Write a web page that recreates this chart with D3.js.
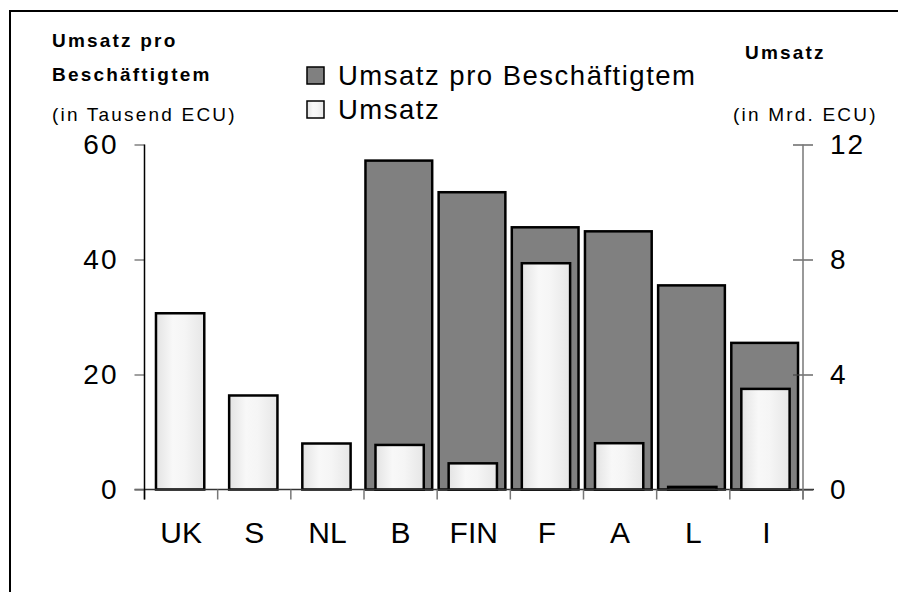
<!DOCTYPE html>
<html>
<head>
<meta charset="utf-8">
<script src="https://cdn.jsdelivr.net/npm/d3@7"></script>
<style>
  html, body { margin: 0; background: #fff; overflow: hidden; }
  svg { display: block; font-family: "Liberation Sans", Arial, sans-serif; }
  .tick text { fill: #000; }
</style>
</head>
<body>
<div id="chart"></div>
<script>
// Countries on the x axis
const countries = ['UK', 'S', 'NL', 'B', 'FIN', 'F', 'A', 'L', 'I'];
// Umsatz pro Beschäftigtem, in Tausend ECU (left axis) - null = no bar
const umsatzProBesch = [null, null, null, 57.2, 51.7, 45.6, 44.9, 35.5, 25.5];
// Umsatz, in Mrd. ECU (right axis)
const umsatz = [6.13, 3.27, 1.6, 1.55, 0.91, 7.87, 1.61, 0.09, 3.5];
// tick values
const leftTicks = [0, 20, 40, 60];
const rightTicks = [0, 4, 8, 12];

const width = 898;
const height = 592;
const margins = { top: 144.5, right: 95, left: 144.5, bottom: 102.5 };
const innerWidth = width - margins.left - margins.right;
const innerHeight = height - margins.top - margins.bottom;

const svg = d3.select('#chart')
  .append('svg')
  .attr('width', width)
  .attr('height', height);

// gradient used by the light bars
const grad = svg.append('defs').append('linearGradient')
  .attr('id', 'lightGrad')
  .attr('x1', '0%').attr('x2', '100%').attr('y1', '0%').attr('y2', '0%');
[[0, '#e3e3e3'], [0.35, '#f8f8f8'], [0.6, '#f5f5f5'], [1, '#e6e6e6']].forEach(s => {
  grad.append('stop').attr('offset', s[0]).attr('stop-color', s[1]);
});

// frame: only top and left edges are inside the picture
svg.append('line')
  .attr('x1', 10).attr('x2', 10)
  .attr('y1', 10).attr('y2', height)
  .attr('stroke', '#000').attr('stroke-width', 2);
svg.append('line')
  .attr('x1', 9).attr('x2', width)
  .attr('y1', 11).attr('y2', 11)
  .attr('stroke', '#000').attr('stroke-width', 2);

const g = svg.append('g')
  .attr('transform', `translate(${margins.left}, ${margins.top})`);

const xScale = d3.scaleBand()
  .domain(countries)
  .range([0, innerWidth]);

const yLeft = d3.scaleLinear()
  .domain([0, 60])
  .range([innerHeight, 0]);

const yRight = d3.scaleLinear()
  .domain([0, 12])
  .range([innerHeight, 0]);

const bw = xScale.bandwidth();

// dark bars (left axis)
const darkData = countries.map((c, i) => ({ c, v: umsatzProBesch[i] })).filter(d => d.v != null);
g.selectAll('rect.dark')
  .data(darkData)
  .enter()
  .append('rect')
  .attr('class', 'dark')
  .attr('x', d => xScale(d.c) + bw * 0.02)
  .attr('width', bw * 0.912)
  .attr('y', d => yLeft(d.v))
  .attr('height', d => innerHeight - yLeft(d.v))
  .attr('fill', '#808080')
  .attr('stroke', '#000')
  .attr('stroke-width', 2.5);

// light bars (right axis)
const lightData = countries.map((c, i) => ({ c, v: umsatz[i] }));
g.selectAll('rect.light')
  .data(lightData)
  .enter()
  .append('rect')
  .attr('class', 'light')
  .attr('x', d => xScale(d.c) + bw * 0.157)
  .attr('width', bw * 0.66)
  .attr('y', d => yRight(d.v))
  .attr('height', d => innerHeight - yRight(d.v))
  .attr('fill', 'url(#lightGrad)')
  .attr('stroke', '#000')
  .attr('stroke-width', 2.5);

// x axis line
g.append('line')
  .attr('x1', -10).attr('x2', innerWidth + 11)
  .attr('y1', innerHeight).attr('y2', innerHeight)
  .attr('stroke', '#333')
  .attr('stroke-width', 1.5);

// category divider ticks
const dividers = countries.map(c => xScale(c)).concat([innerWidth]);
g.selectAll('line.div')
  .data(dividers)
  .enter()
  .append('line')
  .attr('class', 'div')
  .attr('x1', d => d).attr('x2', d => d)
  .attr('y1', innerHeight).attr('y2', innerHeight + 10)
  .attr('stroke', '#777')
  .attr('stroke-width', 1.5);

// category labels
const xAxis = d3.axisBottom(xScale)
  .tickSize(0)
  .tickPadding(32);

g.append('g')
  .attr('class', 'x axis')
  .attr('transform', `translate(0, ${innerHeight})`)
  .call(xAxis)
  .call(a => a.select('.domain').remove())
  .selectAll('text')
  .attr('font-size', 30);

// left axis
const leftAxis = d3.axisLeft(yLeft)
  .tickValues(leftTicks)
  .tickSizeInner(10)
  .tickSizeOuter(0)
  .tickPadding(16);

const la = g.append('g')
  .attr('class', 'y axis left')
  .call(leftAxis);
la.select('.domain').remove();
la.selectAll('.tick line').attr('stroke', '#808080').attr('stroke-width', 1.5);
la.selectAll('.tick text').attr('font-size', 28).attr('letter-spacing', 2);
g.append('line')
  .attr('x1', 0).attr('x2', 0)
  .attr('y1', 0).attr('y2', innerHeight + 10)
  .attr('stroke', '#000').attr('stroke-width', 1.5);

// right axis (ticks cross the axis)
const rightAxis = d3.axisRight(yRight)
  .tickValues(rightTicks)
  .tickSizeInner(10)
  .tickSizeOuter(0)
  .tickPadding(17);

const ra = g.append('g')
  .attr('class', 'y axis right')
  .attr('transform', `translate(${innerWidth}, 0)`)
  .call(rightAxis);
ra.select('.domain').remove();
ra.selectAll('.tick line').attr('x1', -10).attr('stroke', '#444').attr('stroke-width', 1.2);
ra.selectAll('.tick text').attr('font-size', 28).attr('letter-spacing', 2);
ra.append('line')
  .attr('x1', 0).attr('x2', 0)
  .attr('y1', 0).attr('y2', innerHeight + 10)
  .attr('stroke', '#777').attr('stroke-width', 1.5);

// axis titles
const titles = [
  { t: 'Umsatz pro', x: 52, y: 47, bold: true },
  { t: 'Beschäftigtem', x: 52, y: 81, bold: true },
  { t: '(in Tausend ECU)', x: 52, y: 121, bold: false },
  { t: 'Umsatz', x: 745, y: 59, bold: true },
  { t: '(in Mrd. ECU)', x: 733, y: 121, bold: false }
];
svg.selectAll('text.title')
  .data(titles)
  .enter()
  .append('text')
  .attr('class', 'title')
  .attr('x', d => d.x)
  .attr('y', d => d.y)
  .attr('font-size', 19)
  .attr('letter-spacing', 2.2)
  .attr('font-weight', d => d.bold ? 'bold' : 'normal')
  .text(d => d.t);

// legend
const legendItems = [
  { label: 'Umsatz pro Beschäftigtem', fill: '#808080', y: 67 },
  { label: 'Umsatz', fill: 'url(#lightGrad)', y: 101 }
];
const legend = svg.append('g').attr('class', 'legend');
legend.selectAll('rect')
  .data(legendItems)
  .enter()
  .append('rect')
  .attr('x', 307)
  .attr('y', d => d.y)
  .attr('width', 17)
  .attr('height', 17)
  .attr('fill', d => d.fill)
  .attr('stroke', '#000')
  .attr('stroke-width', 1.5);
legend.selectAll('text')
  .data(legendItems)
  .enter()
  .append('text')
  .attr('x', 338)
  .attr('y', d => d.y + 18)
  .attr('font-size', 27.5)
  .attr('letter-spacing', 1.5)
  .text(d => d.label);
</script>
</body>
</html>
